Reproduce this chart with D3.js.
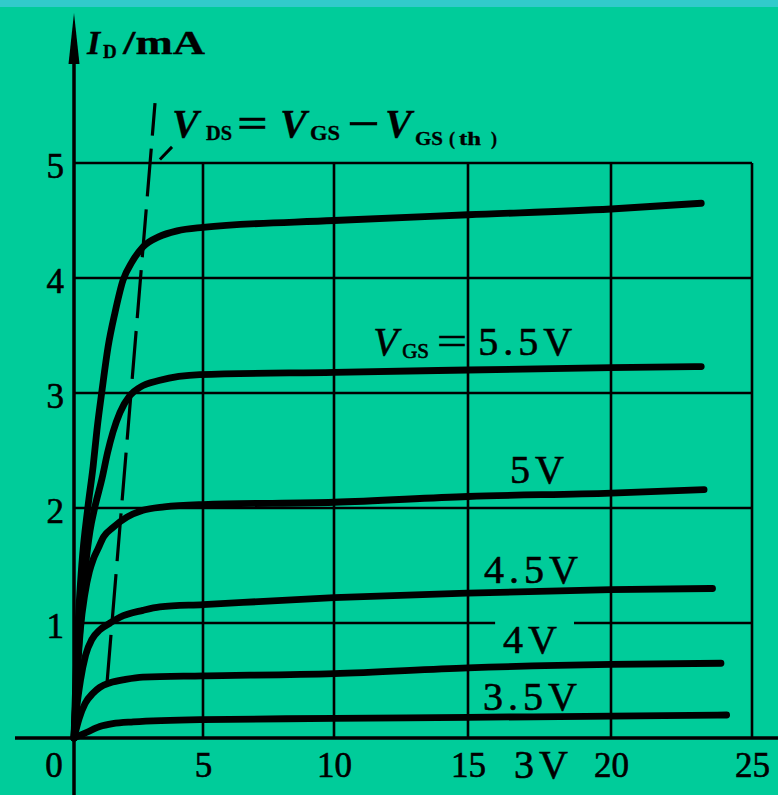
<!DOCTYPE html>
<html>
<head>
<meta charset="utf-8">
<script src="https://cdn.jsdelivr.net/npm/d3@7"></script>
<style>
  html, body { margin: 0; padding: 0; background: #00cc9a; }
  svg { display: block; }
</style>
</head>
<body>
<svg id="chart" width="778" height="795"></svg>
<script>
// Output characteristics of an enhancement NMOS, VGS(th) = 3 V.
// Drain voltage V_DS in volts, drain current I_D in mA.

const xTicks = [5, 10, 15, 20, 25];
const yTicks = [1, 2, 3, 4, 5];

const vds60 = [0, 0.07, 0.16, 0.3, 0.54, 0.74, 0.89, 1.09, 1.32, 1.59, 1.9, 2.25, 2.67, 3.3, 4.0, 5, 10, 15, 20, 23.2];
const id60  = [0, 0.5, 1.0, 1.5, 2.01, 2.36, 2.68, 3.03, 3.4, 3.7, 3.98, 4.14, 4.27, 4.36, 4.41, 4.44, 4.5, 4.55, 4.6, 4.65];

const vds55 = [0, 0.1, 0.25, 0.45, 0.62, 0.81, 1.09, 1.3, 1.51, 1.78, 2.17, 2.56, 3.33, 4.88, 10, 15, 20, 23.2];
const id55  = [0, 0.5, 1.0, 1.5, 1.8, 2.01, 2.26, 2.48, 2.66, 2.83, 2.98, 3.05, 3.11, 3.16, 3.18, 3.2, 3.22, 3.23];

const vds50 = [0, 0.1, 0.25, 0.42, 0.6, 0.74, 0.92, 1.15, 1.51, 2.05, 2.67, 3.5, 5, 10, 15, 20, 23.3];
const id50  = [0, 0.45, 0.95, 1.25, 1.45, 1.55, 1.64, 1.75, 1.83, 1.92, 1.98, 2.01, 2.03, 2.05, 2.1, 2.13, 2.16];

const vds45 = [0, 0.1, 0.25, 0.45, 0.7, 1.0, 1.4, 1.78, 2.67, 3.33, 5, 10, 15, 20, 23.6];
const id45  = [0, 0.25, 0.5, 0.72, 0.86, 0.94, 1.0, 1.05, 1.11, 1.14, 1.16, 1.22, 1.26, 1.29, 1.30];

const vds40 = [0, 0.2, 0.43, 0.74, 1.0, 1.4, 2.0, 2.67, 5, 10, 15, 20, 23.9];
const id40  = [0, 0.17, 0.30, 0.39, 0.44, 0.48, 0.51, 0.53, 0.54, 0.56, 0.61, 0.64, 0.65];

const vds35 = [0, 0.5, 1.0, 1.5, 2.3, 5, 10, 15, 20, 24.1];
const id35  = [0, 0.05, 0.1, 0.125, 0.14, 0.16, 0.17, 0.18, 0.19, 0.20];

// boundary between the variable-resistance and saturation regions
const vdsBoundary = [1.28, 3.14];
const idBoundary  = [0.48, 5.52];

const seriesNames = ["6V", "5.5V", "5V", "4.5V", "4V", "3.5V"];
const series = [
  [vds60, id60], [vds55, id55], [vds50, id50],
  [vds45, id45], [vds40, id40], [vds35, id35]
];

const W = 778, H = 795;
const ink = "#000";
const bg = "#00cc9a";
const serif = "'Liberation Serif', 'Times New Roman', serif";

const svg = d3.select("#chart");

// printed grid is slightly uneven, so the x scale is piecewise linear
const x = d3.scaleLinear().domain([0, 5, 10, 15, 20, 25]).range([74, 203, 334, 468, 611, 752]);
const y = d3.scaleLinear().domain([0, 5]).range([738, 163]);

svg.append("rect").attr("width", W).attr("height", H).attr("fill", bg);
svg.append("rect").attr("width", W).attr("height", 7).attr("fill", "#31cbcb");

const gGrid = svg.append("g");
const gKnock = svg.append("g");
const gAxes = svg.append("g");
const gCurves = svg.append("g");
const gText = svg.append("g");

// grid
gGrid.attr("stroke", ink).attr("stroke-width", 2.6);
gGrid.selectAll("line.v").data(xTicks).join("line").attr("class", "v")
  .attr("x1", d => x(d)).attr("x2", d => x(d))
  .attr("y1", y(5)).attr("y2", y(0));
gGrid.selectAll("line.h").data(yTicks).join("line").attr("class", "h")
  .attr("x1", x(0)).attr("x2", x(25))
  .attr("y1", d => y(d)).attr("y2", d => y(d));

// axis lines, extended past the grid, with an arrow on I_D
gAxes.append("line").attr("x1", 15).attr("x2", W).attr("y1", y(0)).attr("y2", y(0))
  .attr("stroke", ink).attr("stroke-width", 3.5);
gAxes.append("line").attr("x1", x(0)).attr("x2", x(0)).attr("y1", 40).attr("y2", H)
  .attr("stroke", ink).attr("stroke-width", 3.5);
gAxes.append("path")
  .attr("d", `M${x(0)},13 L${x(0) + 5.5},64 L${x(0) - 5.5},64 Z`)
  .attr("fill", ink);

// tick labels
const tickFont = 35;
const fmt = d3.format("d");
const xAxis = gText.append("g").attr("transform", `translate(0,${y(0)})`)
  .call(d3.axisBottom(x).tickValues(xTicks).tickFormat(fmt).tickSize(0).tickPadding(14));
const yAxis = gText.append("g").attr("transform", `translate(${x(0)},0)`)
  .call(d3.axisLeft(y).tickValues(yTicks).tickFormat(fmt).tickSize(0).tickPadding(10));
[xAxis, yAxis].forEach(a => {
  a.select(".domain").remove();
  a.selectAll("text")
    .attr("font-family", serif).attr("font-size", tickFont)
    .attr("fill", ink).attr("stroke", ink).attr("stroke-width", 0.6);
});
yAxis.selectAll("text").attr("dy", "0.4em");
gText.append("text").attr("x", x(0) - 20).attr("y", y(0) + 39)
  .attr("text-anchor", "middle")
  .attr("font-family", serif).attr("font-size", tickFont)
  .attr("fill", ink).attr("stroke", ink).attr("stroke-width", 0.6)
  .text("0");

// characteristic curves
const line = d3.line().x(d => x(d[0])).y(d => y(d[1])).curve(d3.curveMonotoneX);
gCurves.selectAll("path.curve").data(series).join("path").attr("class", "curve")
  .attr("d", s => line(s[0].map((v, i) => [v, s[1][i]])))
  .attr("fill", "none").attr("stroke", ink)
  .attr("stroke-width", 6.8).attr("stroke-linecap", "round").attr("stroke-linejoin", "round");

// dashed boundary line
gCurves.append("path")
  .attr("d", d3.line().x(d => x(d[0])).y(d => y(d[1]))(vdsBoundary.map((v, i) => [v, idBoundary[i]])))
  .attr("fill", "none").attr("stroke", ink).attr("stroke-width", 3.2)
  .attr("stroke-dasharray", "48,13");

// rich-text helper: each part is its own text run, offset from the anchor
function richText(x0, y0, parts, opts = {}) {
  const g = gText.append("g");
  parts.forEach(p => {
    const t = g.append("text")
      .attr("x", x0 + p.dx).attr("y", y0 + (p.dy || 0))
      .attr("font-family", serif).attr("fill", ink)
      .attr("stroke", ink).attr("stroke-width", opts.stroke ?? 0.6)
      .attr("font-weight", p.weight ?? opts.weight ?? "normal")
      .attr("font-size", p.size)
      .attr("font-style", p.italic ? "italic" : "normal")
      .attr("letter-spacing", p.ls || 0)
      .text(p.t);
    if (p.len) t.attr("textLength", p.len).attr("lengthAdjust", "spacingAndGlyphs");
  });
  return g;
}

// axis title I_D / mA
richText(x(0) + 13, 54, [
  { t: "I", dx: 0, size: 34, italic: true },
  { t: "D", dx: 16, dy: 4, size: 19 },
  { t: "/mA", dx: 36, size: 34, len: 82 }
], { weight: "bold", stroke: 0.3 });

// boundary annotation V_DS = V_GS − V_GS(th)
const annX = x(3.8), annY = y(5.23);
richText(annX, annY, [
  { t: "V", dx: 0, size: 40, italic: true },
  { t: "DS", dx: 34, dy: 3, size: 20, len: 26 },
  { t: "=", dx: 65, size: 40, len: 31 },
  { t: "V", dx: 108, size: 40, italic: true },
  { t: "GS", dx: 138, dy: 3, size: 20, len: 30 },
  { t: "\u2212", dx: 175, size: 40, len: 33 },
  { t: "V", dx: 213, size: 40, italic: true },
  { t: "GS", dx: 243, dy: 8, size: 19, len: 28 },
  { t: "(", dx: 277, dy: 8, size: 18 },
  { t: "th", dx: 287, dy: 8, size: 18, len: 22 },
  { t: ")", dx: 319, dy: 8, size: 18 }
], { weight: "bold", stroke: 0.3 });
gCurves.append("line")
  .attr("x1", x(3.33)).attr("y1", y(5.03)).attr("x2", x(3.8)).attr("y2", y(5.14))
  .attr("stroke", ink).attr("stroke-width", 3);

// curve labels
const lblSize = 40;
richText(x(11.46), y(3.33), [
  { t: "V", dx: 0, size: lblSize, italic: true },
  { t: "GS", dx: 29, dy: 3, size: 21 },
  { t: "=", dx: 64, size: lblSize, len: 30 },
  { t: "5.5V", dx: 105, size: lblSize, ls: 5 }
]);

const labelLayout = [
  { text: "5V",   vds: 17.41, id: 2.22 },
  { text: "4.5V", vds: 17.2,  id: 1.35 },
  { text: "4V",   vds: 17.17, id: 0.74, knockout: true },
  { text: "3.5V", vds: 17.17, id: 0.24 },
  { text: "3V",   vds: 17.55, id: -0.35 }
];
labelLayout.forEach(l => {
  const t = gText.append("text")
    .attr("x", x(l.vds) + 2.5).attr("y", y(l.id))
    .attr("text-anchor", "middle")
    .attr("font-family", serif).attr("font-size", lblSize)
    .attr("letter-spacing", 5)
    .attr("fill", ink).attr("stroke", ink).attr("stroke-width", 0.6)
    .text(l.text);
  if (l.knockout) {
    // the grid line is broken where the label sits on it
    const b = t.node().getBBox();
    gKnock.append("rect")
      .attr("x", b.x - 8).attr("width", b.width + 20)
      .attr("y", y(1) - 3).attr("height", 6)
      .attr("fill", bg);
  }
});
</script>
</body>
</html>
